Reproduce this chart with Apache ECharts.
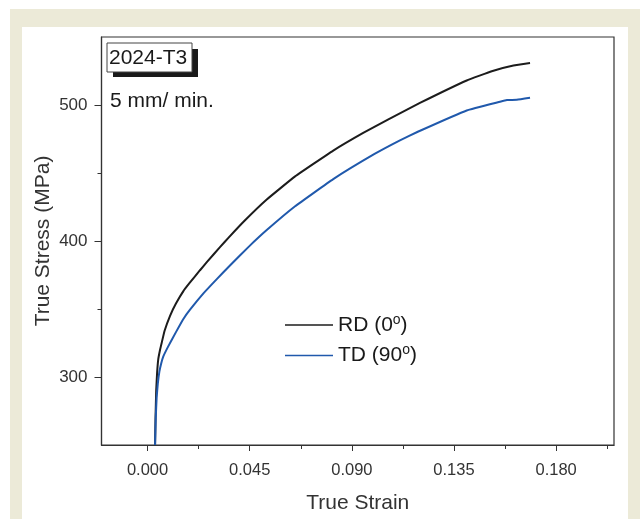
<!DOCTYPE html>
<html>
<head>
<meta charset="utf-8">
<script src="https://cdn.jsdelivr.net/npm/echarts@6/dist/echarts.min.js"></script>
<style>
  html, body { margin: 0; padding: 0; background: #fff; }
  #chart { width: 640px; height: 519px; }
</style>
</head>
<body>
<div id="chart"></div>
<script>
// 2024-T3 true stress-strain, 5 mm/min
var rdStrain = [0.0033, 0.0035, 0.0038, 0.0042, 0.0047, 0.0055, 0.0062, 0.0075, 0.0099, 0.0125, 0.0157, 0.0187, 0.0231, 0.026, 0.0319, 0.0356, 0.0425, 0.0525, 0.065, 0.0818, 0.095, 0.1061, 0.12, 0.1406, 0.152, 0.1612, 0.1685];
var rdStress = [250, 270, 290, 303, 313, 320, 325, 334, 345, 354, 363, 369.5, 378.5, 384.3, 395.5, 402.3, 414.5, 430.5, 447.5, 466.5, 479.5, 489.5, 501.5, 518, 525, 529, 530.8];

var tdStrain = [0.0033, 0.0036, 0.004, 0.0045, 0.0052, 0.006, 0.0069, 0.0091, 0.0125, 0.0157, 0.0187, 0.0246, 0.0305, 0.0363, 0.0444, 0.0525, 0.065, 0.0818, 0.1, 0.1112, 0.1193, 0.1406, 0.1553, 0.1583, 0.1627, 0.1685];
var tdStress = [250, 270, 285, 295, 304, 310, 315, 322.5, 333, 342.5, 349.5, 361.5, 372, 382, 395.5, 408, 425.5, 445.5, 464, 474, 480.5, 496, 502.4, 503.6, 503.8, 505.3];

var xTicks = [0, 0.045, 0.09, 0.135, 0.18];
var xMinor = [0.0225, 0.0675, 0.1125, 0.1575, 0.2025];
var yTicks = [300, 400, 500];
var yMinor = [350, 450];

var seriesNames = ['RD (0°)', 'TD (90°)'];

function pairs(xs, ys) {
    var out = [];
    for (var i = 0; i < xs.length; i++) out.push([xs[i], ys[i]]);
    return out;
}

var chart = echarts.init(document.getElementById('chart'));
var font = 'Liberation Sans, Arial, sans-serif';

var option = {
    backgroundColor: '#fff',
    animation: false,
    textStyle: { fontFamily: font },
    graphic: [
        { type: 'rect', z: -10, shape: { x: 10, y: 9, width: 630, height: 510 }, style: { fill: '#ecead8' } },
        { type: 'rect', z: -9, shape: { x: 22, y: 27, width: 606, height: 492 }, style: { fill: '#fff' } },
        { type: 'rect', z: 10, shape: { x: 113, y: 49, width: 85, height: 28 }, style: { fill: '#1a1a1a' } },
        { type: 'rect', z: 11, shape: { x: 107, y: 43, width: 85, height: 29 }, style: { fill: '#fff', stroke: '#444', lineWidth: 1 } },
        { type: 'text', z: 12, style: { x: 109, y: 58, text: '2024-T3', fontSize: 21, fontFamily: font, fill: '#1a1a1a', verticalAlign: 'middle' } },
        { type: 'text', z: 12, style: { x: 110, y: 101, text: '5 mm/ min.', fontSize: 21, fontFamily: font, fill: '#1a1a1a', verticalAlign: 'middle' } }
    ],
    grid: {
        left: 101.5, right: 26, top: 37, bottom: 70,
        show: true, borderColor: '#333', borderWidth: 1.2
    },
    legend: {
        data: seriesNames,
        orient: 'vertical',
        left: 280, top: 308,
        icon: 'rect',
        itemWidth: 48, itemHeight: 1.6,
        itemGap: 8,
        textStyle: {
            fontSize: 21, color: '#1a1a1a', fontFamily: font,
            rich: { sup: { fontSize: 14, verticalAlign: 'top', padding: [0, 0, 10, 0], color: '#1a1a1a' } }
        },
        formatter: function (name) {
            return name.replace('°', '{sup|o}');
        }
    },
    xAxis: [
        {
            type: 'value', min: -0.0203, max: 0.2055, position: 'bottom',
            name: 'True Strain', nameLocation: 'middle', nameGap: 48,
            nameTextStyle: { fontSize: 21, color: '#333', fontFamily: font },
            splitLine: { show: false },
            axisLine: { onZero: false, lineStyle: { color: '#333', width: 1.2 } },
            axisTick: { length: 6, customValues: xTicks, lineStyle: { color: '#333' } },
            axisLabel: { customValues: xTicks, fontSize: 16.5, color: '#333', margin: 17,
                formatter: function (v) { return v.toFixed(3); } }
        },
        {
            type: 'value', min: -0.0203, max: 0.2055, position: 'bottom',
            splitLine: { show: false },
            axisLine: { show: false, onZero: false },
            axisTick: { length: 4, customValues: xMinor, lineStyle: { color: '#333' } },
            axisLabel: { show: false }
        }
    ],
    yAxis: [
        {
            type: 'value', min: 250, max: 550, position: 'left',
            name: 'True Stress (MPa)', nameLocation: 'middle', nameGap: 48,
            nameMoveOverlap: false,
            nameTextStyle: { fontSize: 21, color: '#333', fontFamily: font },
            splitLine: { show: false },
            axisLine: { onZero: false, lineStyle: { color: '#333', width: 1.2 } },
            axisTick: { length: 7, customValues: yTicks, lineStyle: { color: '#333' } },
            axisLabel: { customValues: yTicks, fontSize: 17, color: '#333', margin: 14 }
        },
        {
            type: 'value', min: 250, max: 550, position: 'left',
            splitLine: { show: false },
            axisLine: { show: false, onZero: false },
            axisTick: { length: 4, customValues: yMinor, lineStyle: { color: '#333' } },
            axisLabel: { show: false }
        }
    ],
    series: [
        {
            name: seriesNames[0], type: 'line', xAxisIndex: 0, yAxisIndex: 0,
            data: pairs(rdStrain, rdStress), smooth: 0.1, showSymbol: false,
            lineStyle: { color: '#1c1c1c', width: 2 }, itemStyle: { color: '#1c1c1c' }
        },
        {
            name: seriesNames[1], type: 'line', xAxisIndex: 0, yAxisIndex: 0,
            data: pairs(tdStrain, tdStress), smooth: 0.1, showSymbol: false,
            lineStyle: { color: '#2059ac', width: 2 }, itemStyle: { color: '#2059ac' }
        }
    ]
};

chart.setOption(option);
</script>
</body>
</html>
